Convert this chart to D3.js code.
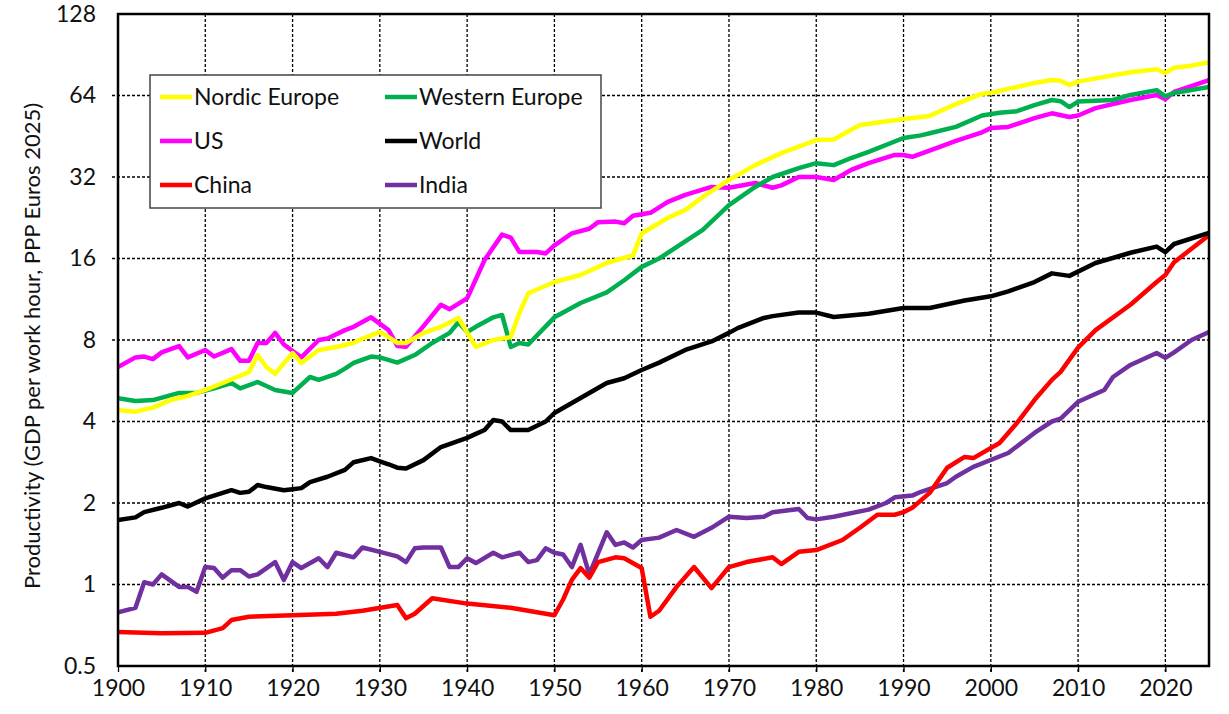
<!DOCTYPE html>
<html>
<head>
<meta charset="utf-8">
<script src="https://cdn.jsdelivr.net/npm/d3@7"></script>
<style>
  html, body { margin: 0; padding: 0; background: #ffffff; }
  svg { display: block; font-family: Lato, "Open Sans", sans-serif; }
</style>
</head>
<body>
<svg id="chart" width="1229" height="714"></svg>
<script>
// ---------------- DATA ----------------
const xTicks = [1900, 1910, 1920, 1930, 1940, 1950, 1960, 1970, 1980, 1990, 2000, 2010, 2020];
const yTicks = [0.5, 1, 2, 4, 8, 16, 32, 64, 128];
const yTitle = "Productivity (GDP per work hour, PPP Euros 2025)";

const nordicYears = [1900,1902,1904,1906,1908,1910,1912,1915,1916,1917,1918,1920,1921,1923,1925,1927,1928,1930,1931,1932,1933,1935,1937,1939,1941,1943,1945,1946,1947,1950,1953,1956,1958,1959,1960,1961,1963,1965,1967,1970,1973,1976,1980,1982,1985,1990,1993,1996,1999,2000,2002,2005,2007,2008,2009,2010,2013,2016,2019,2020,2021,2023,2025];
const nordic = [4.41,4.35,4.5,4.8,4.97,5.23,5.55,6.09,7.04,6.36,6.0,7.16,6.58,7.35,7.54,7.8,8.1,8.56,8.2,7.8,7.8,8.5,8.95,9.65,7.54,8.0,8.2,10.1,11.9,13.1,13.9,15.4,16.1,16.4,19.8,20.7,22.6,24.2,27,31.2,35.4,39.2,43.8,44,49.8,52.4,53.8,59.5,65,65.4,67.7,71.2,73,72.5,70,72,75,78,80,77.5,81,82.5,85];

const westernYears = [1900,1902,1904,1907,1909,1911,1913,1914,1916,1918,1920,1922,1923,1925,1926,1927,1929,1930,1932,1934,1936,1938,1939,1940,1941,1943,1944,1945,1946,1947,1950,1953,1956,1958,1960,1962,1967,1970,1973,1975,1978,1980,1982,1984,1986,1990,1992,1993,1996,1999,2001,2003,2005,2007,2008,2009,2010,2014,2016,2019,2020,2021,2025];
const western = [4.88,4.76,4.8,5.1,5.1,5.3,5.55,5.3,5.6,5.23,5.1,5.84,5.7,6.0,6.27,6.58,6.95,6.9,6.6,7.04,7.8,8.5,9.3,8.56,8.95,9.7,9.9,7.54,7.8,7.7,9.7,10.96,12.0,13.3,14.9,16,20.4,25.2,29.4,32,34.5,36,35.4,37.6,39.6,44.6,45.6,46.4,49,54,55.3,56,59,61.6,61,58,60.8,61.6,64.3,67,63.5,65.4,68.8];

const usYears = [1900,1902,1903,1904,1905,1907,1908,1910,1911,1913,1914,1915,1916,1917,1918,1919,1921,1923,1924,1926,1927,1929,1931,1932,1933,1935,1937,1938,1940,1942,1944,1945,1946,1948,1949,1950,1952,1954,1955,1957,1958,1959,1961,1963,1965,1968,1970,1973,1975,1976,1978,1980,1982,1984,1986,1989,1990,1991,1994,1996,1999,2000,2002,2005,2007,2009,2010,2012,2016,2019,2020,2021,2025];
const us = [6.36,6.9,6.95,6.8,7.2,7.6,6.9,7.35,6.95,7.4,6.7,6.7,7.8,7.8,8.5,7.7,6.9,8.0,8.1,8.7,8.95,9.7,8.7,7.6,7.55,9.0,10.8,10.4,11.4,15.8,19.6,19.1,16.9,16.9,16.7,17.9,19.8,20.6,21.8,21.9,21.6,23.0,23.6,25.9,27.5,29.4,29.2,30.4,29.2,29.8,32,32,31.2,34,36,38.6,38.6,38,41.2,43.5,46.8,48.5,49,52.8,55,53.3,54,57.5,61.6,64.3,62,66,73];

const worldYears = [1900,1902,1903,1905,1907,1908,1910,1911,1913,1914,1915,1916,1917,1919,1920,1921,1922,1924,1926,1927,1929,1930,1931,1932,1933,1935,1937,1940,1941,1942,1943,1944,1945,1947,1949,1950,1952,1954,1956,1958,1960,1962,1965,1968,1970,1971,1974,1975,1978,1980,1982,1986,1990,1993,1997,2000,2002,2005,2007,2009,2012,2016,2019,2020,2021,2025];
const world = [1.73,1.77,1.85,1.92,2.0,1.94,2.08,2.13,2.23,2.18,2.2,2.33,2.29,2.23,2.25,2.27,2.39,2.5,2.65,2.83,2.93,2.85,2.78,2.7,2.68,2.88,3.22,3.48,3.6,3.72,4.05,4.0,3.72,3.72,4.0,4.3,4.68,5.1,5.55,5.78,6.2,6.6,7.35,7.9,8.5,8.85,9.65,9.8,10.1,10.1,9.73,10.0,10.5,10.5,11.2,11.6,12.1,13.1,14.1,13.8,15.4,16.8,17.7,16.9,18.1,19.9];

const chinaYears = [1900,1905,1910,1912,1913,1915,1920,1925,1928,1932,1933,1934,1936,1940,1945,1950,1951,1952,1953,1954,1955,1957,1958,1960,1961,1962,1964,1966,1968,1970,1972,1975,1976,1978,1980,1983,1985,1987,1989,1990,1991,1993,1995,1997,1998,2001,2003,2005,2007,2008,2010,2012,2016,2019,2020,2021,2025];
const china = [0.668,0.66,0.663,0.69,0.739,0.76,0.77,0.78,0.8,0.84,0.75,0.78,0.89,0.85,0.82,0.77,0.88,1.04,1.15,1.06,1.21,1.26,1.25,1.15,0.76,0.8,0.98,1.16,0.97,1.16,1.21,1.26,1.19,1.32,1.34,1.46,1.62,1.81,1.81,1.85,1.92,2.18,2.7,2.96,2.93,3.33,3.95,4.8,5.7,6.1,7.5,8.7,10.8,13.1,13.9,15.5,19.5];

const indiaYears = [1900,1902,1903,1904,1905,1907,1908,1909,1910,1911,1912,1913,1914,1915,1916,1918,1919,1920,1921,1923,1924,1925,1927,1928,1930,1932,1933,1934,1935,1937,1938,1939,1940,1941,1943,1944,1946,1947,1948,1949,1950,1951,1952,1953,1954,1956,1957,1958,1959,1960,1962,1964,1966,1968,1970,1972,1974,1975,1978,1979,1980,1982,1986,1988,1989,1991,1992,1995,1996,1998,2002,2005,2007,2008,2010,2013,2014,2016,2019,2020,2021,2023,2025];
const india = [0.79,0.82,1.02,1.0,1.09,0.98,0.98,0.94,1.16,1.15,1.06,1.13,1.13,1.07,1.09,1.21,1.04,1.21,1.15,1.25,1.16,1.31,1.26,1.37,1.32,1.27,1.21,1.36,1.37,1.37,1.16,1.16,1.25,1.2,1.31,1.26,1.31,1.21,1.23,1.36,1.31,1.29,1.16,1.4,1.09,1.56,1.4,1.43,1.37,1.46,1.49,1.59,1.5,1.62,1.78,1.76,1.78,1.85,1.9,1.76,1.74,1.78,1.89,2.0,2.1,2.13,2.2,2.37,2.5,2.72,3.06,3.63,4.0,4.1,4.73,5.23,5.84,6.47,7.16,6.87,7.2,8.0,8.56];

const seriesNames = ["Nordic Europe", "Western Europe", "US", "World", "China", "India"];
const seriesColors = ["#ffff00", "#00b050", "#ff00ff", "#000000", "#ff0000", "#7030a0"];

// ---------------- CHART ----------------
const svg = d3.select("#chart");
const W = 1229, H = 714;
const m = { left: 118, right: 20, top: 14, bottom: 48 };
const pw = W - m.left - m.right, ph = H - m.top - m.bottom;

const x = d3.scaleLinear().domain([1900, 2025]).range([m.left, m.left + pw]);
const y = d3.scaleLog().base(2).domain([0.5, 128]).range([m.top + ph, m.top]);

const g = svg.append("g");

// grid lines (dashed), extending slightly outside as tick marks
g.append("g").selectAll("line").data(xTicks.slice(1)).join("line")
  .attr("x1", d => x(d)).attr("x2", d => x(d))
  .attr("y1", m.top).attr("y2", m.top + ph + 6)
  .attr("stroke", "#000").attr("stroke-width", 1.3).attr("stroke-dasharray", "3,2");
g.append("g").selectAll("line").data(yTicks.slice(1, -1)).join("line")
  .attr("x1", m.left - 6).attr("x2", m.left + pw)
  .attr("y1", d => y(d)).attr("y2", d => y(d))
  .attr("stroke", "#000").attr("stroke-width", 1.3).attr("stroke-dasharray", "3,2");

// axes via d3
const xAxis = d3.axisBottom(x).tickValues(xTicks).tickFormat(d3.format("d")).tickSize(6).tickPadding(8);
const yAxis = d3.axisLeft(y).tickValues(yTicks).tickFormat(d => d).tickSize(0).tickPadding(22);
const gx = g.append("g").attr("transform", `translate(0,${m.top + ph})`).call(xAxis);
const gy = g.append("g").attr("transform", `translate(${m.left},0)`).call(yAxis);
[gx, gy].forEach(a => {
  a.select(".domain").remove();
  a.selectAll("text").attr("font-size", 23).attr("font-family", "Lato, sans-serif").attr("fill", "#111");
  a.selectAll(".tick line").attr("stroke", "#000").attr("stroke-width", 1.3);
});

// series lines
const line = d3.line().x(d => x(d[0])).y(d => y(d[1])).curve(d3.curveLinear);
const seriesData = [
  d3.zip(nordicYears, nordic),
  d3.zip(westernYears, western),
  d3.zip(usYears, us),
  d3.zip(worldYears, world),
  d3.zip(chinaYears, china),
  d3.zip(indiaYears, india)
];
const drawOrder = [5, 4, 3, 2, 1, 0];
const clip = svg.append("clipPath").attr("id", "clip").append("rect")
  .attr("x", m.left).attr("y", m.top).attr("width", pw).attr("height", ph);
const lg = g.append("g").attr("clip-path", "url(#clip)");
drawOrder.forEach(i => {
  lg.append("path").datum(seriesData[i]).attr("d", line)
    .attr("fill", "none").attr("stroke", seriesColors[i]).attr("stroke-width", 4.5)
    .attr("stroke-linejoin", "round").attr("stroke-linecap", "round");
});

// frame
g.append("rect").attr("x", m.left).attr("y", m.top).attr("width", pw).attr("height", ph)
  .attr("fill", "none").attr("stroke", "#000").attr("stroke-width", 2.5);

// y axis title
svg.append("text")
  .attr("transform", `translate(40,${m.top + ph / 2 + 6}) rotate(-90)`)
  .attr("text-anchor", "middle").attr("font-size", 22).attr("fill", "#111")
  .text(yTitle);

// legend
const leg = svg.append("g");
leg.append("rect").attr("x", 150).attr("y", 75).attr("width", 451).attr("height", 133)
  .attr("fill", "#fff").attr("stroke", "#444").attr("stroke-width", 1.5);
const legCols = [160, 385];
const legRows = [97, 141, 185];
seriesNames.forEach((name, i) => {
  const cx = legCols[i % 2], cy = legRows[Math.floor(i / 2)];
  leg.append("line").attr("x1", cx).attr("x2", cx + 32).attr("y1", cy).attr("y2", cy)
    .attr("stroke", seriesColors[i]).attr("stroke-width", 4.5);
  leg.append("text").attr("x", cx + 34).attr("y", cy).attr("dy", "0.36em")
    .attr("font-size", 23).attr("fill", "#111").text(name);
});
</script>
</body>
</html>
